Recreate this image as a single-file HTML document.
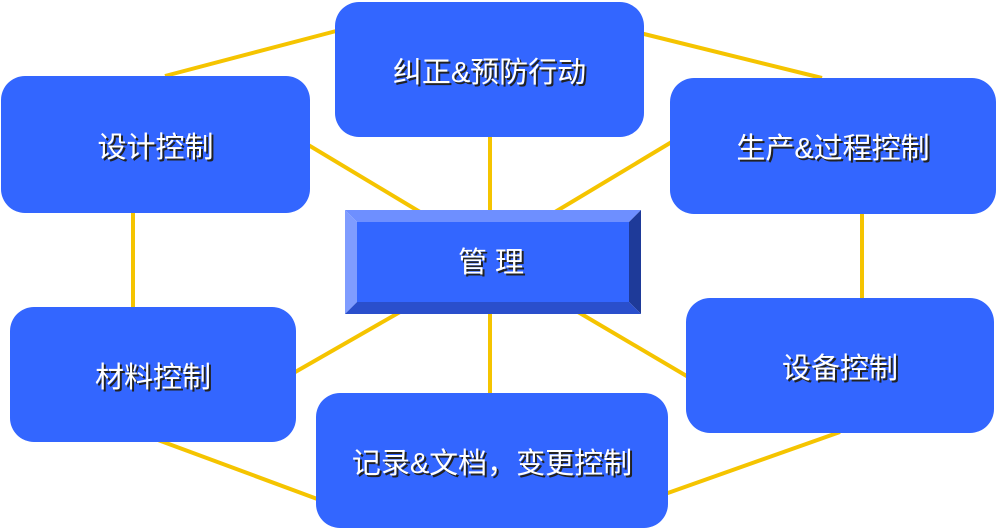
<!DOCTYPE html>
<html><head><meta charset="utf-8"><style>
body{margin:0;width:1000px;height:530px;background:#fff;position:relative;overflow:hidden;font-family:"Liberation Sans","Noto Sans CJK SC",sans-serif}
.b{position:absolute;background:#3366ff;border-radius:24px;color:#fff;font-size:29px;display:flex;align-items:center;justify-content:center;text-shadow:2px 2px 0 #222;}
svg{position:absolute;left:0;top:0}
</style></head><body>
<svg width="1000" height="530">
<g stroke="#f5c400" stroke-width="4" fill="none">
<line x1="165" y1="76" x2="340" y2="30"/>
<line x1="640" y1="33" x2="822" y2="78"/>
<line x1="862" y1="210" x2="862" y2="300"/>
<line x1="840" y1="432" x2="665" y2="494"/>
<line x1="320" y1="500" x2="158" y2="440"/>
<line x1="133" y1="210" x2="133" y2="310"/>
<line x1="300" y1="140" x2="420" y2="212"/>
<line x1="490" y1="130" x2="490" y2="212"/>
<line x1="675" y1="140" x2="555" y2="212"/>
<line x1="290" y1="375" x2="400" y2="312"/>
<line x1="490" y1="312" x2="490" y2="395"/>
<line x1="690" y1="378" x2="578" y2="312"/>
</g>
<polygon points="345,210 641,210 629,222 357,222" fill="#6e8fff"/>
<polygon points="345,210 357,222 357,302 345,314" fill="#7f9cff"/>
<polygon points="641,210 641,314 629,302 629,222" fill="#1e3a99"/>
<polygon points="345,314 357,302 629,302 641,314" fill="#2a4fcc"/>
<rect x="357" y="222" width="272" height="80" fill="#3366ff"/>
<text x="493" y="274" font-size="29" fill="#222" text-anchor="middle" font-family="Liberation Sans,Noto Sans CJK SC,sans-serif">管 理</text>
<text x="491" y="272" font-size="29" fill="#fff" text-anchor="middle" font-family="Liberation Sans,Noto Sans CJK SC,sans-serif">管 理</text>
</svg>
<div class="b" style="left:1px;top:76px;width:309px;height:137px">设计控制</div>
<div class="b" style="left:335px;top:2px;width:309px;height:135px">纠正&amp;预防行动</div>
<div class="b" style="left:670px;top:78px;width:326px;height:136px">生产&amp;过程控制</div>
<div class="b" style="left:10px;top:307px;width:286px;height:135px">材料控制</div>
<div class="b" style="left:686px;top:298px;width:308px;height:135px">设备控制</div>
<div class="b" style="left:316px;top:393px;width:352px;height:135px">记录&amp;文档，变更控制</div>
</body></html>
